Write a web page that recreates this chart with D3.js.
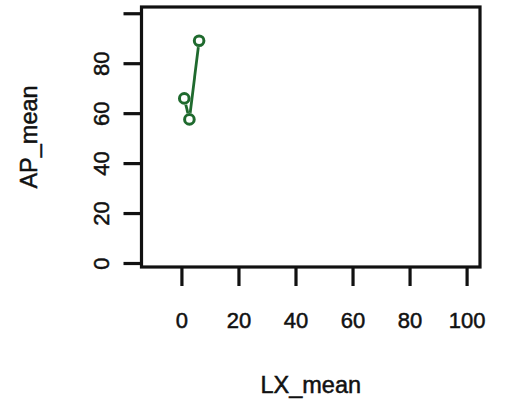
<!DOCTYPE html>
<html>
<head>
<meta charset="utf-8">
<style>
  body { margin: 0; background: #fff; }
  svg text { font-family: "Liberation Sans", Arial, sans-serif; fill: #111; stroke: #111; stroke-width: 0.5px; }
  .axis path { display: none; }
  .axis line { stroke: #111; stroke-width: 3.2; }
  .axis text { font-size: 22px; }
</style>
</head>
<body>
<script src="https://d3js.org/d3.v7.min.js"></script>
<script>
// data
var lxMean = [1.0, 2.8, 6.2];
var apMean = [65.9, 57.5, 89.0];
var xTicks = [0, 20, 40, 60, 80, 100];
var yTicks = [0, 20, 40, 60, 80, 100];
var yTickLabels = ["0", "20", "40", "60", "80", ""];   // R drops the top label

var width = 505, height = 408;
var box = {left: 141.5, right: 480, top: 7, bottom: 267};
var green = "#1f6a2e";

var svg = d3.select("body").append("svg")
    .attr("width", width)
    .attr("height", height);

var x = d3.scaleLinear().domain([-14, 104.7]).range([box.left, box.right]);
var y = d3.scaleLinear().domain([-1.6, 102.5]).range([box.bottom, box.top]);

// x axis
var gx = svg.append("g")
    .attr("class", "axis")
    .attr("transform", "translate(0," + box.bottom + ")")
    .call(d3.axisBottom(x).tickValues(xTicks).tickSize(19).tickFormat(d3.format("d")));
gx.selectAll("text").attr("y", 61).attr("dy", 0);

// y axis with rotated labels
var gy = svg.append("g")
    .attr("class", "axis")
    .attr("transform", "translate(" + box.left + ",0)")
    .call(d3.axisLeft(y).tickValues(yTicks).tickSize(18)
        .tickFormat(function(d, i) { return yTickLabels[i]; }));
gy.selectAll("text")
    .attr("x", 0)
    .attr("y", -32.5)
    .attr("dy", 0)
    .attr("text-anchor", "middle")
    .attr("transform", "rotate(-90)");

// plot frame
svg.append("rect")
    .attr("x", box.left).attr("y", box.top)
    .attr("width", box.right - box.left)
    .attr("height", box.bottom - box.top)
    .attr("fill", "none")
    .attr("stroke", "#111")
    .attr("stroke-width", 3.2);

// type = "b": segments with a gap round each point
var pts = lxMean.map(function(d, i) { return [x(d), y(apMean[i])]; });
var r = 4.8, gap = 6.5;
var segs = d3.pairs(pts).map(function(p) {
    var dx = p[1][0] - p[0][0], dy = p[1][1] - p[0][1];
    var len = Math.sqrt(dx * dx + dy * dy);
    var ux = dx / len, uy = dy / len;
    return [p[0][0] + ux * gap, p[0][1] + uy * gap, p[1][0] - ux * gap, p[1][1] - uy * gap];
});

svg.selectAll(".seg").data(segs).enter().append("line")
    .attr("class", "seg")
    .attr("x1", function(d) { return d[0]; })
    .attr("y1", function(d) { return d[1]; })
    .attr("x2", function(d) { return d[2]; })
    .attr("y2", function(d) { return d[3]; })
    .attr("stroke", green)
    .attr("stroke-width", 2.8);

svg.selectAll(".pt").data(pts).enter().append("circle")
    .attr("class", "pt")
    .attr("cx", function(d) { return d[0]; })
    .attr("cy", function(d) { return d[1]; })
    .attr("r", r)
    .attr("fill", "none")
    .attr("stroke", green)
    .attr("stroke-width", 3);

// axis titles
svg.append("text")
    .attr("x", (box.left + box.right) / 2)
    .attr("y", 393)
    .attr("text-anchor", "middle")
    .style("font-size", "23.5px")
    .text("LX_mean");

svg.append("text")
    .attr("transform", "translate(37," + ((box.top + box.bottom) / 2) + ") rotate(-90)")
    .attr("text-anchor", "middle")
    .style("font-size", "23.5px")
    .text("AP_mean");
</script>
</body>
</html>
